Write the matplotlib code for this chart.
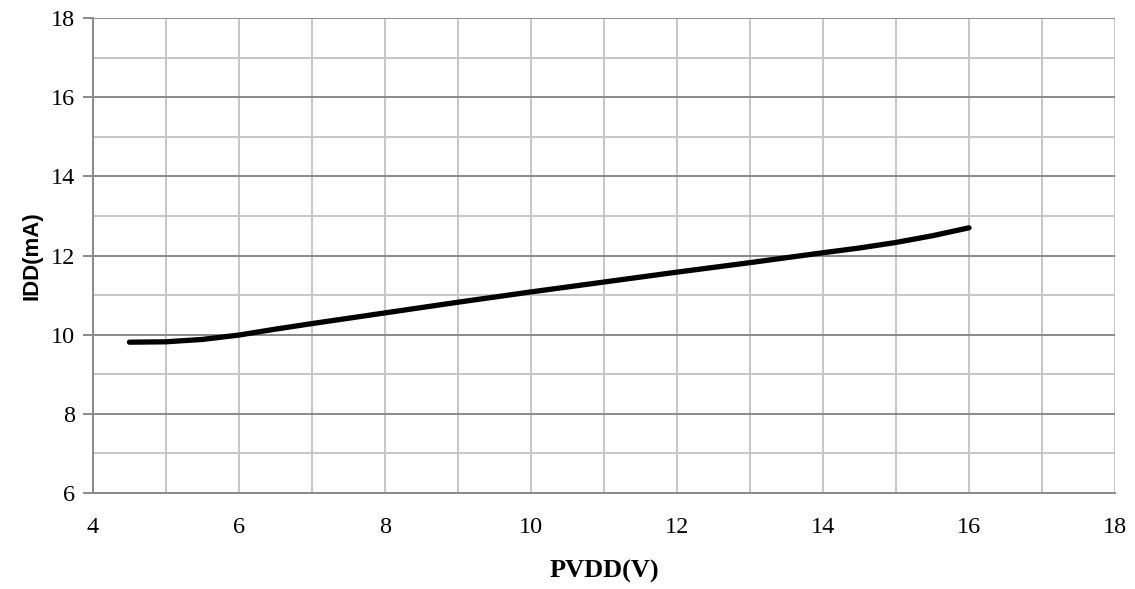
import numpy as np
import matplotlib.pyplot as plt
from matplotlib.ticker import MultipleLocator

# PVDD (V) vs IDD (mA)
pvdd = [4.5, 5, 5.5, 6, 6.5, 7, 8, 9, 10, 11, 12, 13, 14, 14.5, 15, 15.5, 16]
idd = [9.81, 9.82, 9.88, 9.99, 10.14, 10.28, 10.55, 10.82, 11.08, 11.33, 11.58,
       11.82, 12.07, 12.19, 12.33, 12.50, 12.70]

xticks = [4, 6, 8, 10, 12, 14, 16, 18]
yticks = [6, 8, 10, 12, 14, 16, 18]


def main():
    fig = plt.figure(figsize=(11.35, 5.89), dpi=100)
    ax = fig.add_axes([0.0819, 0.163, 0.9005, 0.8064])

    major_c = '#8a8a8a'
    minor_c = '#c6c6c6'

    ax.set_xlim(4, 18)
    ax.set_ylim(6, 18)
    ax.set_xticks(xticks)
    ax.set_yticks(yticks)
    ax.xaxis.set_minor_locator(MultipleLocator(1))
    ax.yaxis.set_minor_locator(MultipleLocator(1))

    ax.grid(which='major', axis='y', color=major_c, lw=1.4)
    ax.grid(which='minor', axis='y', color=minor_c, lw=1.4)
    ax.grid(which='both', axis='x', color=minor_c, lw=1.4)
    ax.set_axisbelow(True)

    for s in ['top', 'right']:
        ax.spines[s].set_visible(False)
    ax.spines['left'].set_color(major_c)
    ax.spines['bottom'].set_color(major_c)
    ax.spines['left'].set_linewidth(1.4)
    ax.spines['bottom'].set_linewidth(1.4)

    ax.tick_params(axis='y', which='major', length=7, width=1.4, color=major_c, pad=6)
    ax.tick_params(axis='y', which='minor', length=0)
    ax.tick_params(axis='x', which='both', length=0, pad=17)

    for lab in ax.get_xticklabels() + ax.get_yticklabels():
        lab.set_fontfamily('Liberation Serif')
        lab.set_fontsize(17.5)

    ax.plot(pvdd, idd, color='black', lw=3.8, solid_capstyle='round')

    ax.set_xlabel('PVDD(V)', fontfamily='Liberation Serif', fontweight='bold', fontsize=19, labelpad=16)
    ax.set_ylabel('IDD(mA)', fontfamily='Liberation Sans', fontweight='bold', fontsize=16, labelpad=6)

    fig.savefig('out.png', dpi=100, facecolor='white')


main()
